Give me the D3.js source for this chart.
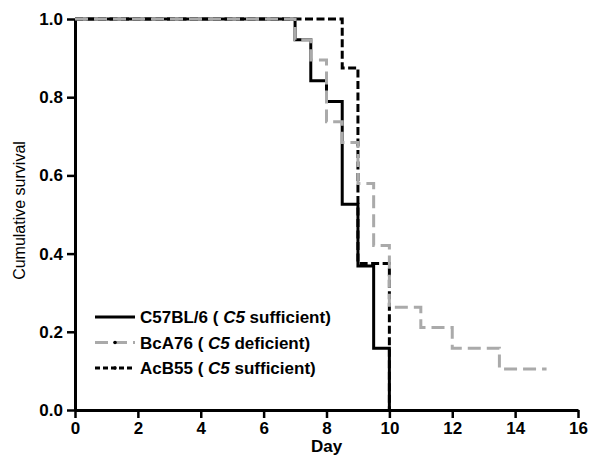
<!DOCTYPE html>
<html>
<head>
<meta charset="utf-8">
<script src="https://cdn.jsdelivr.net/npm/d3@7"></script>
<style>
  body { margin: 0; background: #fff; }
  text { font-family: "Liberation Sans", Arial, sans-serif; }
</style>
</head>
<body>
<div id="container"></div>
<script>
// Kaplan-Meier steps
const c57Days = [0, 7, 7.5, 8, 8.5, 9, 9.5, 10]
const c57Surv = [1, 0.947, 0.842, 0.789, 0.526, 0.368, 0.158, 0]
const bcaDays = [0, 7, 7.5, 8, 8.5, 9, 9.5, 10, 11, 12, 13.5, 15]
const bcaSurv = [1, 0.947, 0.895, 0.737, 0.684, 0.579, 0.421, 0.263, 0.211, 0.158, 0.105, 0.105]
const acbDays = [0, 8.5, 9, 10]
const acbSurv = [1, 0.875, 0.375, 0]

const xTicks = [0, 2, 4, 6, 8, 10, 12, 14, 16]
const yTicks = [0, 0.2, 0.4, 0.6, 0.8, 1.0]
const legendNames = ["C57BL/6", "BcA76", "AcB55"]
const legendGenes = ["C5", "C5", "C5"]
const legendStatus = ["sufficient)", "deficient)", "sufficient)"]

const width = 589, height = 456
const margin = { left: 75, right: 11, top: 19, bottom: 46 }
const grey = "#aaaaaa"

const svg = d3.select("#container").append("svg")
    .attr("width", width).attr("height", height)

const x = d3.scaleLinear().domain([0, 16]).range([margin.left, width - margin.right])
const y = d3.scaleLinear().domain([0, 1]).range([height - margin.bottom, margin.top])

// axes
const xAxis = svg.append("g")
    .attr("transform", `translate(0,${y(0)})`)
    .call(d3.axisBottom(x).tickValues(xTicks).tickSize(8).tickSizeOuter(0).tickPadding(4).tickFormat(d3.format("d")))
const yAxis = svg.append("g")
    .attr("transform", `translate(${x(0)},0)`)
    .call(d3.axisLeft(y).tickValues(yTicks).tickSize(8).tickSizeOuter(0).tickPadding(4).tickFormat(d3.format(".1f")))

for (const g of [xAxis, yAxis]) {
    g.select(".domain").attr("stroke", "#000").attr("stroke-width", 3)
    g.selectAll(".tick line").attr("stroke", "#000").attr("stroke-width", 2.5)
    g.selectAll(".tick text").attr("fill", "#000")
        .style("font-family", "'Liberation Sans', Arial, sans-serif")
        .style("font-size", "17px").style("font-weight", "bold")
}

// axis titles
svg.append("text")
    .attr("x", (x(0) + x(16)) / 2).attr("y", 452)
    .attr("text-anchor", "middle")
    .style("font-size", "17px").style("font-weight", "bold")
    .text("Day")
svg.append("text")
    .attr("transform", `translate(25,${(y(0) + y(1)) / 2 - 4}) rotate(-90)`)
    .attr("text-anchor", "middle")
    .style("font-size", "16px")
    .text("Cumulative survival")

// curves
const step = d3.line()
    .x(d => x(d[0]))
    .y(d => y(d[1]))
    .curve(d3.curveStepAfter)

const series = [
    { days: c57Days, surv: c57Surv, color: "#000", dash: null },
    { days: acbDays, surv: acbSurv, color: "#000", dash: "8,3.5" },
    { days: bcaDays, surv: bcaSurv, color: grey, dash: "13,6" }
]

series.forEach(s => {
    svg.append("path")
        .datum(s.days.map((d, i) => [d, s.surv[i]]))
        .attr("d", step)
        .attr("fill", "none")
        .attr("stroke", s.color)
        .attr("stroke-width", 3)
        .attr("stroke-dasharray", s.dash)
})

// legend
const legendStyles = [
    { color: "#000", dash: null, dot: false },
    { color: grey, dash: "13,6", dot: true },
    { color: "#000", dash: "5,3", dot: true }
]
const legend = svg.append("g")
legendNames.forEach((name, i) => {
    const ly = 317 + i * 25.5
    const st = legendStyles[i]
    legend.append("line")
        .attr("x1", 95).attr("x2", 135)
        .attr("y1", ly).attr("y2", ly)
        .attr("stroke", st.color)
        .attr("stroke-width", 3)
        .attr("stroke-dasharray", st.dash)
    if (st.dot) {
        legend.append("circle")
            .attr("cx", 115).attr("cy", ly).attr("r", 1.8).attr("fill", "#000")
    }
    const t = legend.append("text")
        .attr("x", 140).attr("y", ly + 6)
        .style("font-size", "17px").style("font-weight", "bold")
    t.append("tspan").text(name + " ( ")
    t.append("tspan").style("font-style", "italic").text(legendGenes[i])
    t.append("tspan").text(" " + legendStatus[i])
})
</script>
</body>
</html>
